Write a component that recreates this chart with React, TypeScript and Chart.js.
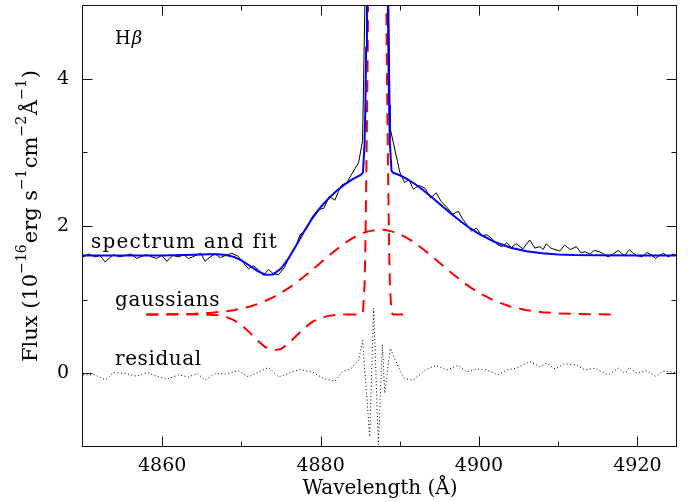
import React, { useEffect, useRef } from 'react';
import { Chart, registerables } from 'chart.js';

Chart.register(...registerables);

// ---- data ----
const residWave = [
  4850.0, 4851.5, 4852.8, 4853.9, 4855.3, 4856.8, 4858.1, 4859.3, 4860.6, 4862.1,
  4863.3, 4864.4, 4865.4, 4866.7, 4868.0, 4869.6, 4870.9, 4872.2, 4873.4, 4874.7,
  4876.2, 4877.4, 4878.9, 4880.4, 4881.8, 4882.7, 4883.9, 4884.8, 4885.3, 4886.2,
  4886.7, 4887.3, 4887.8, 4888.1, 4888.8, 4890.0, 4890.6, 4891.7, 4893.2, 4894.6,
  4895.9, 4897.4, 4898.4, 4899.7, 4901.0, 4902.4, 4903.5, 4904.7, 4906.4, 4907.7,
  4908.5, 4909.6, 4910.8, 4912.3, 4913.4, 4914.6, 4916.3, 4917.6, 4918.4, 4919.0,
  4919.9, 4921.2, 4922.3, 4923.3, 4924.5, 4925.0,
];
const residFlux = [
  -0.02, -0.02, -0.09, 0.01, 0.0, -0.04, 0.01, -0.04, -0.08, -0.02,
  -0.05, 0.0, -0.09, 0.0, -0.01, 0.035, -0.05, 0.02, 0.08, -0.05,
  0.01, 0.05, 0.02, -0.07, -0.11, 0.02, 0.07, 0.18, 0.45, -0.86,
  0.88, -0.97, 0.39, -0.27, 0.34, 0.045, -0.07, -0.09, 0.045, 0.11,
  0.045, 0.11, 0.02, 0.06, 0.045, -0.02, 0.045, 0.07, 0.16, 0.09,
  0.14, 0.06, 0.13, 0.11, 0.045, 0.07, -0.02, 0.07, 0.0, 0.08,
  0.0, 0.035, -0.04, 0.03, 0.02, 0.0,
];

const specWave = [
  4850.0, 4850.75, 4851.5, 4852.15, 4852.8, 4853.35, 4853.9, 4854.6, 4855.3, 4856.05,
  4856.8, 4857.45, 4858.1, 4858.7, 4859.3, 4859.95, 4860.6, 4861.35, 4862.1, 4862.7,
  4863.3, 4863.85, 4864.4, 4864.9, 4865.4, 4866.05, 4866.7, 4867.35, 4868.0, 4868.8,
  4869.6, 4870.25, 4870.9, 4871.55, 4872.2, 4872.8, 4873.4, 4874.05, 4874.7, 4875.45,
  4876.2, 4876.8, 4877.4, 4878.15, 4878.9, 4879.65, 4880.4, 4881.1, 4881.8, 4882.25,
  4882.7, 4883.3, 4883.9, 4884.35, 4884.8, 4885.3, 4886.2, 4886.7, 4887.3, 4887.8,
  4888.1, 4888.8, 4890.0, 4890.6, 4891.15, 4891.7, 4892.45, 4893.2, 4893.9, 4894.6,
  4895.25, 4895.9, 4896.65, 4897.4, 4897.9, 4898.4, 4899.05, 4899.7, 4900.35, 4901.0,
  4901.7, 4902.4, 4902.95, 4903.5, 4904.1, 4904.7, 4905.55, 4906.4, 4907.05, 4907.7,
  4908.1, 4908.5, 4909.05, 4909.6, 4910.2, 4910.8, 4911.55, 4912.3, 4912.85, 4913.4,
  4914.0, 4914.6, 4915.45, 4916.3, 4916.95, 4917.6, 4918.0, 4918.4, 4919.0, 4919.45,
  4919.9, 4920.55, 4921.2, 4921.75, 4922.3, 4922.8, 4923.3, 4923.9, 4924.5, 4925.0,
];
const specFlux = [
  1.58, 1.62, 1.58, 1.60, 1.51, 1.57, 1.61, 1.58, 1.60, 1.62,
  1.56, 1.59, 1.61, 1.58, 1.56, 1.60, 1.52, 1.60, 1.58, 1.61,
  1.56, 1.58, 1.61, 1.63, 1.52, 1.58, 1.62, 1.57, 1.60, 1.63,
  1.59, 1.50, 1.42, 1.46, 1.40, 1.33, 1.41, 1.35, 1.34, 1.44,
  1.61, 1.70, 1.88, 1.95, 2.12, 2.22, 2.24, 2.40, 2.35, 2.47,
  2.56, 2.58, 2.70, 2.78, 2.86, 3.16, 8.8, 21.0, 26.0, 17.5,
  9.4, 3.32, 2.73, 2.59, 2.63, 2.50, 2.55, 2.51, 2.38, 2.45,
  2.33, 2.26, 2.16, 2.20, 2.10, 2.03, 1.93, 1.97, 1.87, 1.88,
  1.82, 1.74, 1.72, 1.77, 1.71, 1.76, 1.69, 1.81, 1.70, 1.72,
  1.68, 1.76, 1.70, 1.68, 1.66, 1.74, 1.68, 1.72, 1.64, 1.65,
  1.62, 1.67, 1.64, 1.58, 1.62, 1.67, 1.63, 1.60, 1.68, 1.63,
  1.60, 1.58, 1.64, 1.61, 1.56, 1.60, 1.63, 1.58, 1.62, 1.60,
];

const fitWave = [
  4850, 4855, 4860, 4864, 4866, 4867, 4868, 4869, 4870, 4871,
  4872, 4873, 4874, 4875, 4876, 4877, 4878, 4879, 4880, 4881,
  4882, 4883, 4884, 4885, 4885.35, 4885.55, 4885.65, 4885.75, 4885.85, 4885.95,
  4886.15, 4886.55, 4887.15, 4887.75, 4888.15, 4888.35, 4888.45, 4888.55, 4888.65, 4888.75,
  4888.95, 4889.15, 4890, 4891, 4892, 4893, 4894, 4895, 4896, 4897,
  4898, 4899, 4900, 4902, 4904, 4906, 4908, 4910, 4912, 4915,
  4920, 4925,
];
const fitFlux = [
  1.600, 1.600, 1.600, 1.609, 1.615, 1.616, 1.607, 1.582, 1.534, 1.464,
  1.390, 1.339, 1.343, 1.423, 1.569, 1.753, 1.941, 2.111, 2.255, 2.374,
  2.475, 2.561, 2.633, 2.689, 2.724, 3.11, 3.62, 4.42, 5.32, 6.33,
  9.24, 17.7, 27.7, 17.75, 9.27, 6.34, 5.34, 4.44, 3.64, 3.13,
  2.75, 2.724, 2.689, 2.633, 2.563, 2.482, 2.394, 2.302, 2.210, 2.121,
  2.037, 1.960, 1.892, 1.782, 1.705, 1.657, 1.629, 1.614, 1.606, 1.602,
  1.600, 1.600,
];

const broadWave = [
  4858, 4860, 4862, 4864, 4866, 4868, 4869, 4870, 4871, 4872,
  4873, 4874, 4875, 4876, 4877, 4878, 4879, 4880, 4881, 4882,
  4883, 4884, 4885, 4886, 4887, 4887.5, 4888, 4889, 4890, 4891,
  4892, 4893, 4894, 4895, 4896, 4897, 4898, 4899, 4900, 4902,
  4904, 4906, 4908, 4910, 4912, 4914, 4917,
];
const broadFlux = [
  0.800, 0.800, 0.804, 0.809, 0.820, 0.841, 0.857, 0.878, 0.905, 0.940,
  0.982, 1.032, 1.092, 1.160, 1.237, 1.321, 1.410, 1.502, 1.594, 1.682,
  1.763, 1.833, 1.889, 1.927, 1.948, 1.950, 1.948, 1.927, 1.889, 1.833,
  1.763, 1.682, 1.594, 1.502, 1.410, 1.321, 1.237, 1.160, 1.092, 0.982,
  0.905, 0.857, 0.829, 0.814, 0.806, 0.802, 0.800,
];

const absWave = [
  4858, 4862, 4864, 4866, 4867, 4868, 4869, 4870, 4871, 4872,
  4873, 4874, 4875, 4876, 4877, 4878, 4879, 4880, 4881, 4882,
  4883,
];
const absFlux = [
  0.800, 0.800, 0.799, 0.795, 0.787, 0.766, 0.725, 0.656, 0.559, 0.450,
  0.357, 0.311, 0.331, 0.409, 0.516, 0.620, 0.701, 0.753, 0.780, 0.793,
  0.798,
];

const narrowWave = [
  4883, 4885.15, 4885.35, 4885.55, 4885.65, 4885.75, 4885.85, 4885.95, 4886.15, 4886.55,
  4887.15, 4887.75, 4888.15, 4888.35, 4888.45, 4888.55, 4888.65, 4888.75, 4888.95, 4889.15,
  4891.3,
];
const narrowFlux = [
  0.80, 0.80, 0.82, 1.2, 1.7, 2.5, 3.4, 4.4, 7.3, 15.8,
  25.8, 15.8, 7.3, 4.4, 3.4, 2.5, 1.7, 1.2, 0.82, 0.80,
  0.80,
];

const xLabelTicks = [4860, 4880, 4900, 4920];
const xMinorTicks = [4870, 4890, 4910];
const yLabelTicks = [0, 2, 4];
const yMinorTicks = [1, 3];

const xTitle = 'Wavelength (Å)';
const yTitleParts: { t: string; sup: boolean }[] = [
  { t: 'Flux (10', sup: false },
  { t: '−16', sup: true },
  { t: 'erg s', sup: false },
  { t: '−1', sup: true },
  { t: 'cm', sup: false },
  { t: '−2', sup: true },
  { t: 'Å', sup: false },
  { t: '−1', sup: true },
  { t: ')', sup: false },
];
const labels = {
  line: 'Hβ',
  spectrum: 'spectrum and fit',
  gauss: 'gaussians',
  resid: 'residual',
};

const FONT = 'DejaVu Serif';
const RED = '#ff0000';
const BLUE = '#0000ff';

const pts = (xs: number[], ys: number[]) => xs.map((x, i) => ({ x, y: ys[i] }));

const framePlugin = {
  id: 'frame',
  afterDatasetsDraw(chart: any) {
    const { ctx, chartArea, scales } = chart;
    const { left, right, top, bottom } = chartArea;
    const xs = scales.x;
    const ys = scales.y;
    ctx.save();
    ctx.strokeStyle = '#111';
    ctx.lineWidth = 1;
    const L = Math.round(left) - 0.5;
    const R = Math.round(right) - 0.5;
    const T = Math.round(top) + 0.5;
    const B = Math.round(bottom) - 0.5;
    ctx.strokeRect(L, T, R - L, B - T);
    ctx.beginPath();
    const xt = (v: number, len: number) => {
      const p = Math.round(xs.getPixelForValue(v)) + 0.5;
      ctx.moveTo(p, B);
      ctx.lineTo(p, B - len);
      ctx.moveTo(p, T);
      ctx.lineTo(p, T + len);
    };
    const yt = (v: number, len: number) => {
      const p = Math.round(ys.getPixelForValue(v)) + 0.5;
      ctx.moveTo(L, p);
      ctx.lineTo(L + len, p);
      ctx.moveTo(R, p);
      ctx.lineTo(R - len, p);
    };
    xLabelTicks.forEach((v) => xt(v, 10));
    xMinorTicks.forEach((v) => xt(v, 5));
    yLabelTicks.forEach((v) => yt(v, 10));
    yMinorTicks.forEach((v) => yt(v, 5));
    ctx.stroke();
    ctx.restore();
  },
  afterDraw(chart: any) {
    const { ctx, chartArea } = chart;
    ctx.save();
    ctx.fillStyle = '#000';
    ctx.textBaseline = 'alphabetic';

    // x title
    ctx.font = `20px "${FONT}"`;
    ctx.textAlign = 'center';
    ctx.fillText(xTitle, (chartArea.left + chartArea.right) / 2, 494);

    // y title with superscripts
    ctx.save();
    ctx.translate(37, 216);
    ctx.rotate(-Math.PI / 2);
    ctx.textAlign = 'left';
    const mainFont = `21px "${FONT}"`;
    const supFont = `14px "${FONT}"`;
    let total = 0;
    const widths = yTitleParts.map((p) => {
      ctx.font = p.sup ? supFont : mainFont;
      const w = ctx.measureText(p.t).width + (p.sup ? 1 : 0);
      total += w;
      return w;
    });
    let cx = -total / 2;
    yTitleParts.forEach((p, i) => {
      ctx.font = p.sup ? supFont : mainFont;
      ctx.fillText(p.t, cx, p.sup ? -11 : 0);
      cx += widths[i];
    });
    ctx.restore();

    // annotations
    ctx.textAlign = 'left';
    ctx.font = `18px "${FONT}"`;
    ctx.fillText('H', 115, 44);
    const hw = ctx.measureText('H').width;
    ctx.font = `italic 18px "${FONT}"`;
    ctx.fillText(labels.line.slice(1), 115 + hw + 1, 44);

    ctx.font = `20px "${FONT}"`;
    try { (ctx as any).letterSpacing = '1.2px'; } catch (e) {}
    ctx.fillText(labels.spectrum, 91, 248);
    try { (ctx as any).letterSpacing = '0.6px'; } catch (e) {}
    ctx.fillText(labels.gauss, 115, 306);
    ctx.fillText(labels.resid, 115, 365);
    try { (ctx as any).letterSpacing = '0px'; } catch (e) {}
    ctx.restore();
  },
};

export default function App() {
  const canvasRef = useRef<HTMLCanvasElement | null>(null);

  useEffect(() => {
    const canvas = canvasRef.current;
    if (!canvas) return;
    const redDash = [12, 8];
    const chart = new Chart(canvas, {
      type: 'line',
      data: {
        datasets: [
          {
            label: 'fit',
            data: pts(fitWave, fitFlux),
            borderColor: BLUE,
            borderWidth: 2,
            pointRadius: 0,
            tension: 0,
          },
          {
            label: 'spectrum',
            data: pts(specWave, specFlux),
            borderColor: '#000',
            borderWidth: 1,
            pointRadius: 0,
            tension: 0,
          },
          {
            label: 'broad',
            data: pts(broadWave, broadFlux),
            borderColor: RED,
            borderWidth: 2,
            borderDash: redDash,
            pointRadius: 0,
            tension: 0,
          },
          {
            label: 'absorption',
            data: pts(absWave, absFlux),
            borderColor: RED,
            borderWidth: 2,
            borderDash: redDash,
            pointRadius: 0,
            tension: 0,
          },
          {
            label: 'narrow',
            data: pts(narrowWave, narrowFlux),
            borderColor: RED,
            borderWidth: 2,
            borderDash: redDash,
            pointRadius: 0,
            tension: 0,
          },
          {
            label: 'residual',
            data: pts(residWave, residFlux),
            borderColor: '#000',
            borderWidth: 1,
            borderDash: [1, 2.5],
            pointRadius: 0,
            tension: 0,
          },
        ],
      },
      options: {
        animation: false,
        responsive: false,
        devicePixelRatio: 1,
        layout: { padding: { top: 5, right: 13, left: 0, bottom: 0 } },
        plugins: { legend: { display: false }, tooltip: { enabled: false }, title: { display: false } },
        scales: {
          x: {
            type: 'linear',
            min: 4850,
            max: 4925,
            grid: { display: false, drawTicks: false },
            border: { display: false },
            afterBuildTicks: (s: any) => {
              s.ticks = xLabelTicks.map((v) => ({ value: v }));
            },
            afterFit: (s: any) => {
              s.height = 55;
              s.paddingLeft = 0;
              s.paddingRight = 0;
            },
            ticks: {
              color: '#000',
              font: { family: FONT, size: 19 },
              padding: 8,
              maxRotation: 0,
              autoSkip: false,
              callback: (v: any) => String(v),
            },
          },
          y: {
            type: 'linear',
            min: -1,
            max: 5,
            grid: { display: false, drawTicks: false },
            border: { display: false },
            afterBuildTicks: (s: any) => {
              s.ticks = yLabelTicks.map((v) => ({ value: v }));
            },
            afterFit: (s: any) => {
              s.width = 83;
              s.paddingTop = 0;
              s.paddingBottom = 0;
            },
            ticks: {
              color: '#000',
              font: { family: FONT, size: 19 },
              padding: 14,
              autoSkip: false,
              callback: (v: any) => String(v),
            },
          },
        },
      } as any,
      plugins: [framePlugin as any],
    });
    return () => chart.destroy();
  }, []);

  return (
    <div style={{ position: 'fixed', left: 0, top: 0, width: 690, height: 502, background: '#fff' }}>
      <canvas ref={canvasRef} width={690} height={502} style={{ width: 690, height: 502 }} />
    </div>
  );
}
